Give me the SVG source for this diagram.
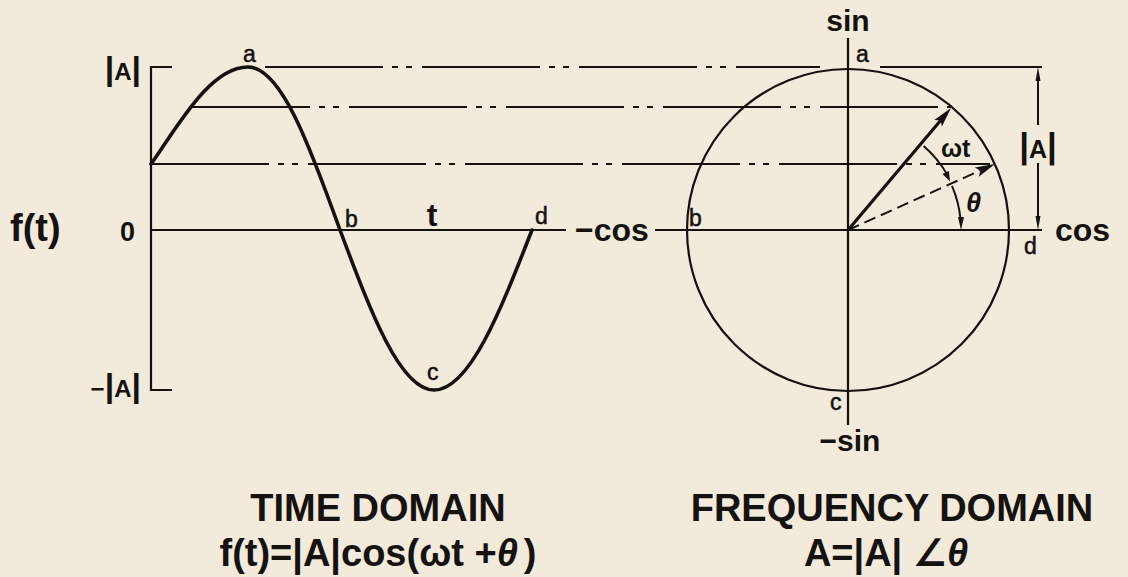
<svg xmlns="http://www.w3.org/2000/svg" width="1128" height="577" viewBox="0 0 1128 577">
<style>
.ink{stroke:#151210;fill:none}
.ax{stroke-width:2.2}
.cv{stroke-width:3.6;stroke-linecap:round}
.ph{stroke-width:2;stroke-dasharray:118 9 6 8 6 10}
.hd{fill:#151210;stroke:none}
.t{font-family:"Liberation Sans","DejaVu Sans",sans-serif;fill:#151210}
.b{font-weight:bold}
.lbl{font-size:23px;stroke:#151210;stroke-width:0.5}
.big{font-size:38px;font-weight:bold}
</style>
<rect width="1128" height="577" fill="#f2eadb"/>

<g id="time-axes">
  <path class="ink ax" d="M172,67 H151 V390 H172"/>
  <path class="ink ax" d="M151,230 H566"/>
</g>

<g id="sine-curve">
  <path class="ink cv" d="M151,164 C178,126 210,67 248,67 C281,67 310,146.5 340,230 C370.7,312 400,390 434,390 C469.5,390 500,312 532,230"/>
</g>

<g id="phasor-circle">
  <circle class="ink" stroke-width="2.2" cx="848" cy="230" r="161"/>
  <path class="ink ax" d="M655,230 H1042"/>
  <path class="ink ax" d="M848,38 V425"/>
</g>

<g id="connectors">
  <path class="ink ph" d="M265,67 H820"/>
  <path class="ink" stroke-width="2" d="M880,67 H1042"/>
  <path class="ink ph" d="M192,107 H952"/>
  <path class="ink ph" d="M151,164 H990"/>
  <path class="ink" stroke-width="3.2" d="M848,230 L941,120"/>
  <polygon class="hd" points="951,108 941.9,126.5 940.7,120.2 934.3,120"/>
  <path class="ink" stroke-width="2" stroke-dasharray="12 6" d="M848,230 L980,170.6"/>
  <polygon class="hd" points="995,164 978.8,176.8 980.4,170.6 974.7,167.6"/>
  <path class="ink" stroke-width="2" d="M923.6,146 A113,113 0 0 1 947.5,175"/>
  <polygon class="hd" points="950,181.4 948.9,170.9 942.5,173.9"/>
  <path class="ink" stroke-width="2" d="M952,185.9 A113,113 0 0 1 960.6,220"/>
  <polygon class="hd" points="961,230 964,217 958,217"/>
  <path class="ink" stroke-width="2" d="M1038,78 V125 M1038,163 V219"/>
  <polygon class="hd" points="1038,67 1035.5,81 1040.5,81"/>
  <polygon class="hd" points="1038,230 1035.5,216 1040.5,216"/>
</g>

<g id="time-labels" class="t">
  <text x="10" y="241" font-size="38" class="b">f(t)</text>
  <text x="120" y="241" font-size="27" class="b">0</text>
  <text x="141" y="80" font-size="24" class="b" text-anchor="end"><tspan font-size="34">|</tspan>A<tspan font-size="34">|</tspan></text>
  <text x="141" y="397" font-size="24" class="b" text-anchor="end">−<tspan font-size="34">|</tspan>A<tspan font-size="34">|</tspan></text>
  <text x="243" y="62" class="lbl">a</text>
  <text x="345" y="227" class="lbl">b</text>
  <text x="427" y="380" class="lbl">c</text>
  <text x="535" y="224" class="lbl">d</text>
  <text x="432" y="226" font-size="32" class="b" text-anchor="middle">t</text>
</g>

<g id="freq-labels" class="t">
  <text x="848" y="31" font-size="30" class="b" text-anchor="middle">sin</text>
  <text x="850" y="451" font-size="30" class="b" text-anchor="middle">−sin</text>
  <text x="575" y="241" font-size="32" class="b">−cos</text>
  <text x="1055" y="241" font-size="32" class="b">cos</text>
  <text x="856" y="62" class="lbl">a</text>
  <text x="689" y="226" class="lbl">b</text>
  <text x="830" y="410" class="lbl">c</text>
  <text x="1024" y="254" class="lbl">d</text>
  <text x="941" y="157" font-size="25" class="b">ωt</text>
  <text x="966" y="212" font-size="27" font-style="italic" class="b">θ</text>
  <text x="1038" y="158" font-size="25" class="b" text-anchor="middle"><tspan font-size="35">|</tspan>A<tspan font-size="35">|</tspan></text>
</g>

<g id="captions" class="t">
  <text x="378" y="521" class="big" text-anchor="middle">TIME DOMAIN</text>
  <text x="378" y="566" class="big" text-anchor="middle">f(t)=|A|cos(ωt +<tspan font-style="italic">θ</tspan><tspan dx="6">)</tspan></text>
  <text x="892" y="521" class="big" text-anchor="middle">FREQUENCY DOMAIN</text>
  <text x="886" y="566" class="big" text-anchor="middle">A=|A| ∠<tspan font-style="italic">θ</tspan></text>
</g>
</svg>
